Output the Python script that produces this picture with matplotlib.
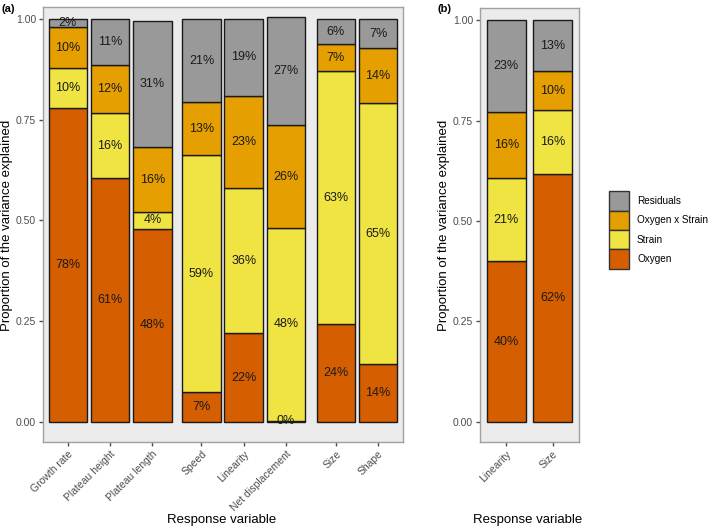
'''
Stacked bars: share of variance explained by oxygen, strain and their interaction
'''

import numpy as np
import matplotlib.pyplot as plt

plt.rcParams['font.family'] = ['Liberation Sans', 'DejaVu Sans']

# panel (a)
vars_a = ['Growth rate', 'Plateau height', 'Plateau length', 'Speed',
          'Linearity', 'Net displacement', 'Size', 'Shape']
oxygen_a = [0.78, 0.606, 0.48, 0.073, 0.22, 0.003, 0.243, 0.143]
strain_a = [0.098, 0.16, 0.04, 0.59, 0.36, 0.478, 0.628, 0.648]
inter_a = [0.102, 0.12, 0.163, 0.13, 0.23, 0.255, 0.066, 0.137]
resid_a = [0.02, 0.114, 0.312, 0.207, 0.19, 0.268, 0.063, 0.072]

# panel (b)
vars_b = ['Linearity', 'Size']
oxygen_b = [0.40, 0.616]
strain_b = [0.207, 0.16]
inter_b = [0.164, 0.097]
resid_b = [0.229, 0.127]

components = ['Oxygen', 'Strain', 'Oxygen x Strain', 'Residuals']
colors = ['#D55E00', '#F0E442', '#E69F00', '#999999']

W, H = 709, 529


def draw_panel(ax, pos, layers, width):
    bottom = np.zeros(len(pos))
    for vals, col in zip(layers, colors):
        vals = np.array(vals)
        ax.bar(pos, vals, width, bottom=bottom, color=col,
               edgecolor='#1a1a1a', linewidth=1.0, zorder=2)
        for x, b, v in zip(pos, bottom, vals):
            ax.text(x, b + v / 2, f'{v * 100:.0f}%', ha='center',
                    va='center', fontsize=9, color='#1a1a1a', zorder=3)
        bottom = bottom + vals
    ax.set_facecolor('#EBEBEB')
    for s in ax.spines.values():
        s.set_color('#A0A0A0')
        s.set_linewidth(1.0)
    ax.set_ylim(-0.05, 1.03)
    ax.set_yticks([0, 0.25, 0.5, 0.75, 1.0])
    ax.set_yticklabels(['0.00', '0.25', '0.50', '0.75', '1.00'])
    ax.tick_params(colors='#4D4D4D', labelsize=7.5, length=3, width=1,
                   pad=2)
    ax.tick_params(axis='y', labelcolor='#4D4D4D')


fig = plt.figure(figsize=(W / 100, H / 100), dpi=100)

ax1 = fig.add_axes([43 / W, 1 - 442 / H, 360 / W, 435 / H])
pos_a = np.array([0, 1, 2, 3.16, 4.16, 5.16, 6.34, 7.34])
draw_panel(ax1, pos_a, [oxygen_a, strain_a, inter_a, resid_a], 0.91)
ax1.set_xlim(-0.59, 7.93)
ax1.set_xticks(pos_a)
ax1.set_xticklabels(vars_a, rotation=45, ha='right', rotation_mode='anchor',
                    color='#4D4D4D')

ax2 = fig.add_axes([480 / W, 1 - 442 / H, 99 / W, 434 / H])
pos_b = np.array([0, 1])
draw_panel(ax2, pos_b, [oxygen_b, strain_b, inter_b, resid_b], 0.85)
ax2.set_xlim(-0.57, 1.57)
ax2.set_xticks(pos_b)
ax2.set_xticklabels(vars_b, rotation=45, ha='right', rotation_mode='anchor',
                    color='#4D4D4D')

for xc in (7, 444):
    fig.text(xc / W, 1 - 225 / H, 'Proportion of the variance explained',
             rotation=90, ha='center', va='center', fontsize=9.5)
for xc in (222, 528):
    fig.text(xc / W, 1 - 520 / H, 'Response variable', ha='center',
             va='center', fontsize=9.5)
fig.text(2 / W, 1 - 9 / H, '(a)', fontweight='bold', fontsize=8,
         va='center')
fig.text(437 / W, 1 - 9 / H, '(b)', fontweight='bold', fontsize=8,
         va='center')

# legend, top entry first as in ggplot
handles = [plt.Rectangle((0, 0), 1, 1, facecolor=c, edgecolor='#333333',
                         linewidth=1.0) for c in colors[::-1]]
fig.legend(handles, components[::-1], loc='center left',
           bbox_to_anchor=(609 / W, 1 - 230 / H), frameon=False, fontsize=7.2,
           handlelength=2.0, handleheight=2.6, labelspacing=0.0,
           handletextpad=0.8, borderpad=0, borderaxespad=0)

fig.savefig('out.png', dpi=100)
